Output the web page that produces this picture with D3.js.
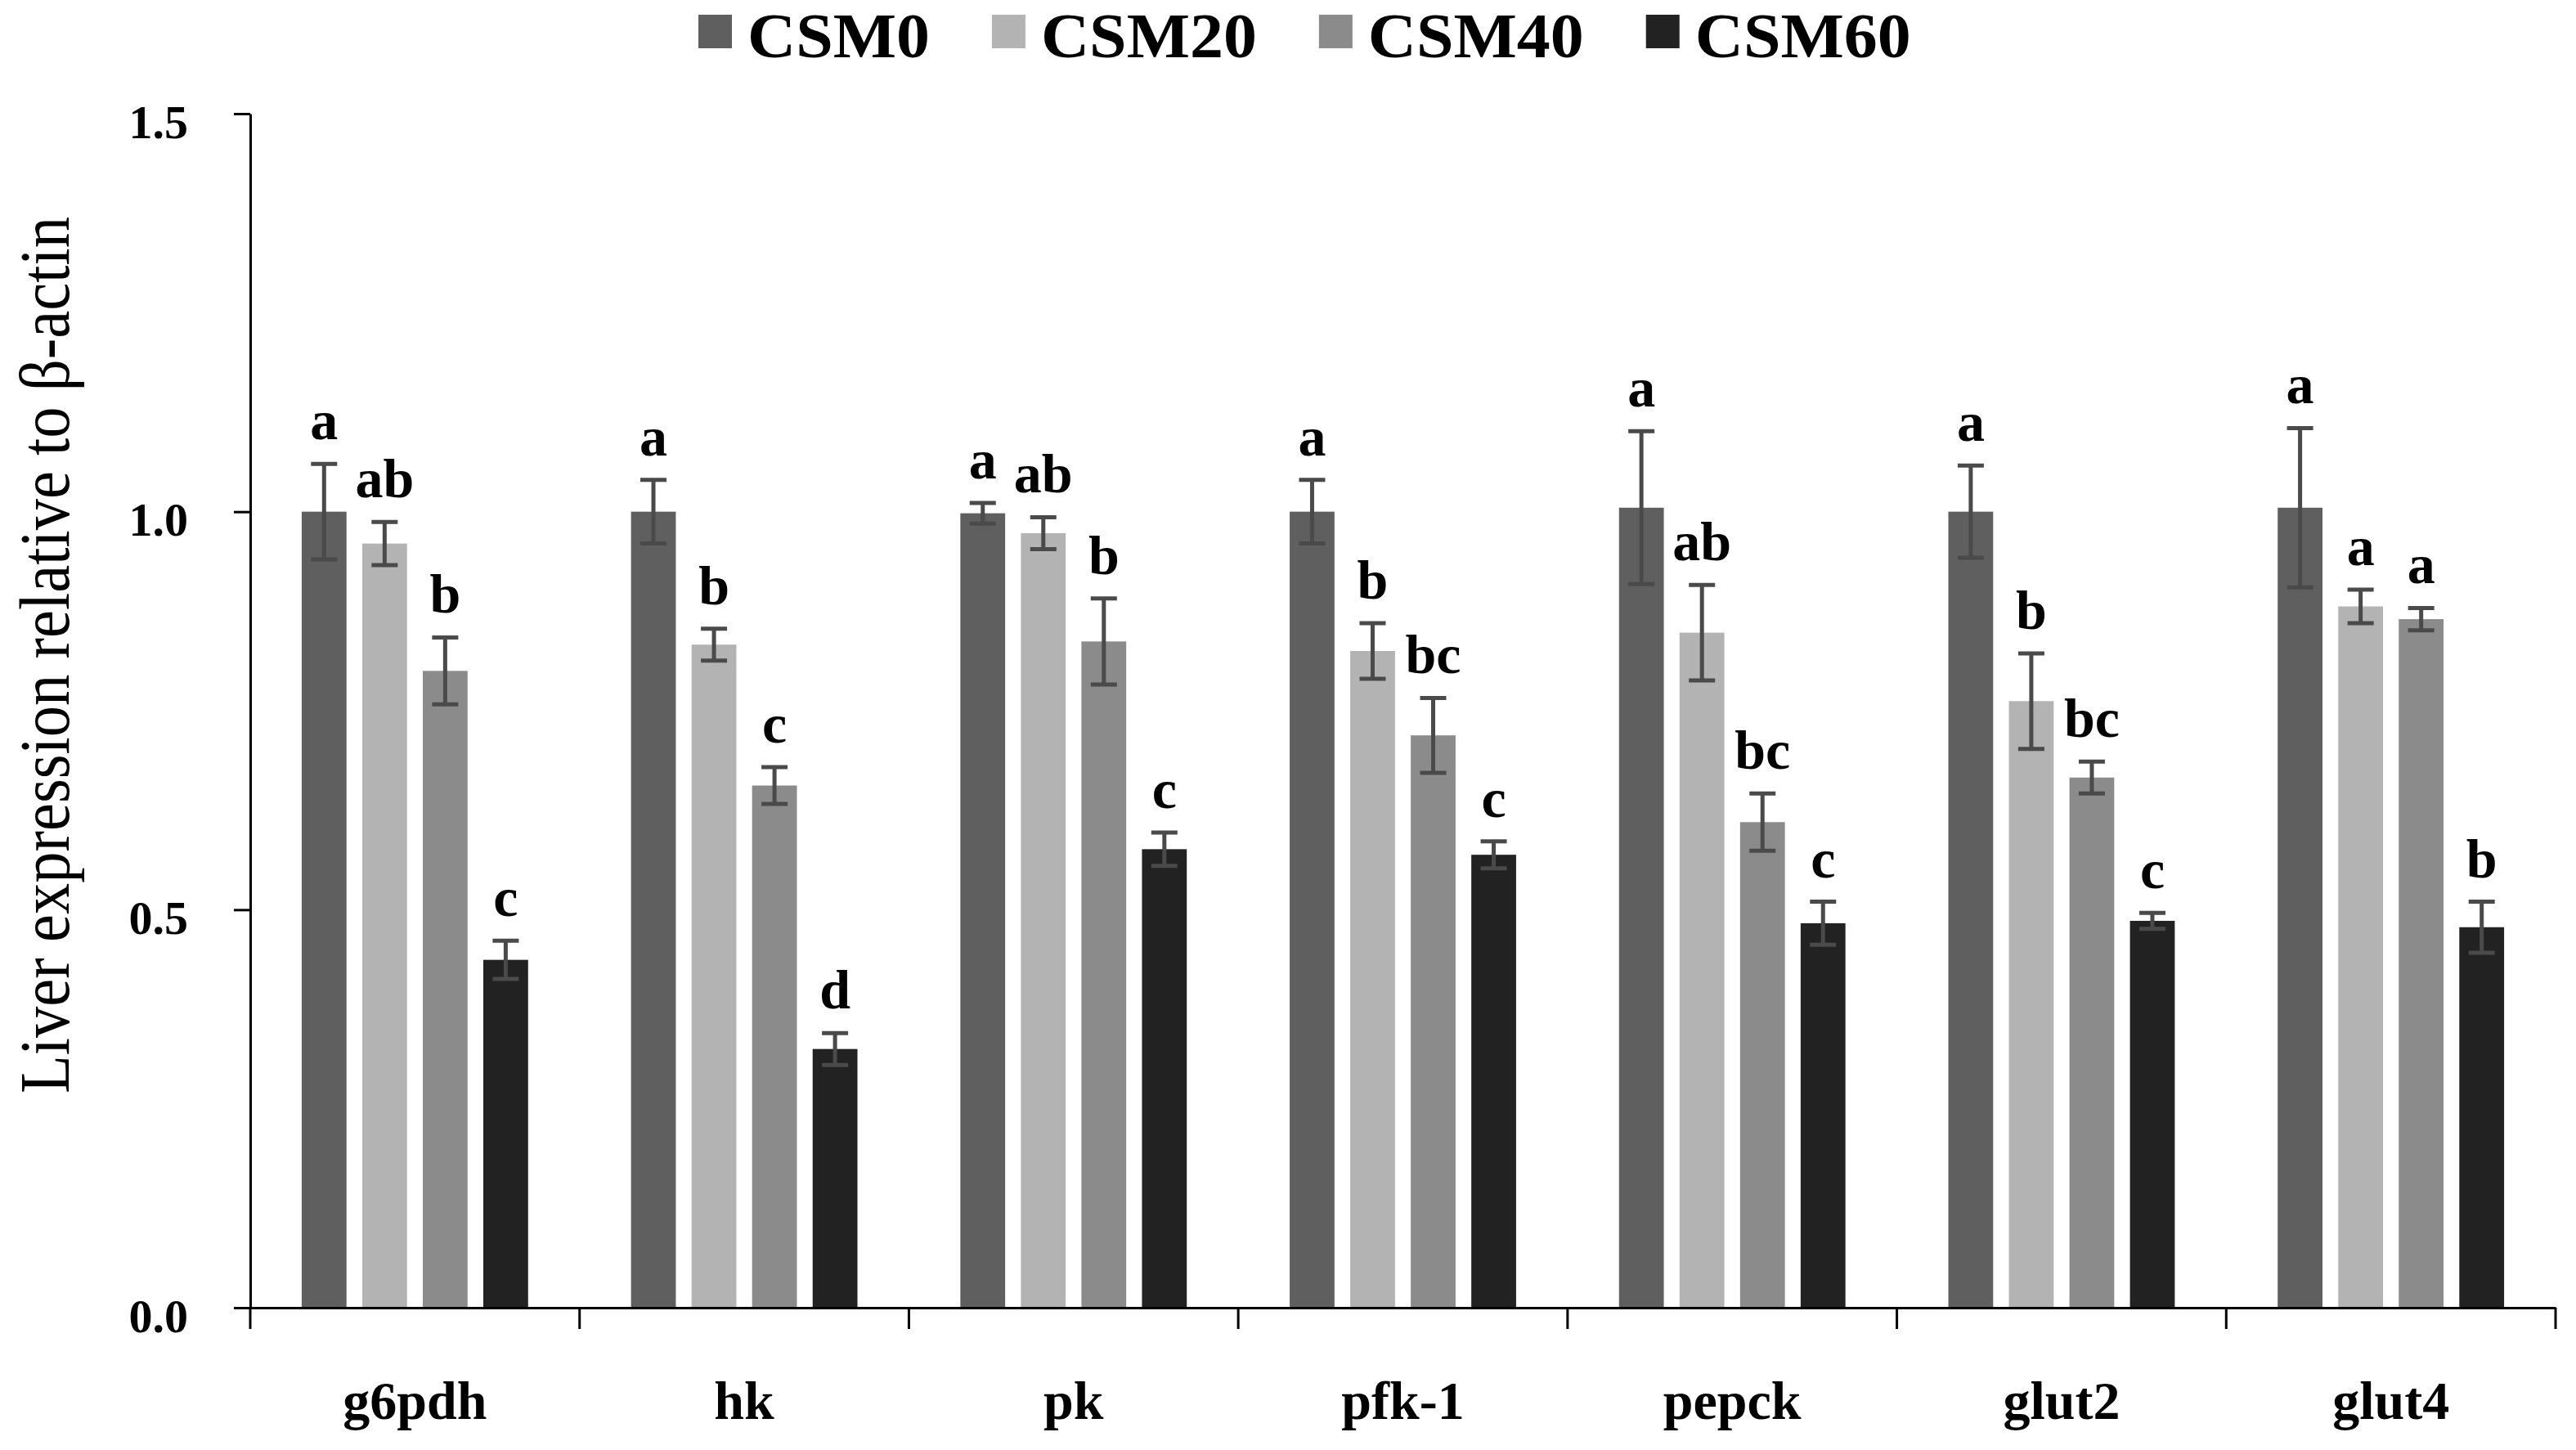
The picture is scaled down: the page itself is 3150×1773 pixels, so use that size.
<!DOCTYPE html>
<html>
<head>
<meta charset="utf-8">
<script src="https://cdn.jsdelivr.net/npm/d3@7/dist/d3.min.js"></script>
<style>
  html, body { margin: 0; padding: 0; background: #fff; }
  svg { display: block; }
  text { font-family: "Liberation Serif", "Times New Roman", serif; fill: #000; }
</style>
</head>
<body>
<svg id="chart" width="3150" height="1773"></svg>
<script>
// ---- data ----
const categories = ["g6pdh", "hk", "pk", "pfk-1", "pepck", "glut2", "glut4"];
const seriesNames = ["CSM0", "CSM20", "CSM40", "CSM60"];
const seriesColors = ["#5f5f5f", "#b3b3b3", "#8b8b8b", "#222222"];

const csm0     = [1.000, 1.000, 0.998, 1.000, 1.005, 1.000, 1.005];
const csm0Err  = [0.060, 0.040, 0.013, 0.040, 0.096, 0.058, 0.100];
const csm20    = [0.960, 0.833, 0.973, 0.825, 0.848, 0.762, 0.881];
const csm20Err = [0.027, 0.020, 0.020, 0.035, 0.060, 0.060, 0.021];
const csm40    = [0.800, 0.656, 0.837, 0.719, 0.610, 0.666, 0.865];
const csm40Err = [0.042, 0.023, 0.054, 0.047, 0.036, 0.020, 0.014];
const csm60    = [0.437, 0.325, 0.576, 0.569, 0.483, 0.486, 0.478];
const csm60Err = [0.024, 0.020, 0.021, 0.017, 0.027, 0.010, 0.032];

const csm0Sig  = ["a", "a", "a", "a", "a", "a", "a"];
const csm20Sig = ["ab", "b", "ab", "b", "ab", "b", "a"];
const csm40Sig = ["b", "c", "b", "bc", "bc", "bc", "a"];
const csm60Sig = ["c", "d", "c", "c", "c", "c", "b"];

const yTicks = [0, 0.5, 1.0, 1.5];
const yTitle = "Liver expression relative to \u03b2-actin";

// ---- build rows ----
const values = [csm0, csm20, csm40, csm60];
const errors = [csm0Err, csm20Err, csm40Err, csm60Err];
const sigs = [csm0Sig, csm20Sig, csm40Sig, csm60Sig];
const rows = [];
categories.forEach((c, i) => {
  seriesNames.forEach((s, j) => {
    rows.push({ cat: c, series: s, value: values[j][i], err: errors[j][i], sig: sigs[j][i] });
  });
});

// ---- layout ----
const svg = d3.select("#chart");
const plotL = 306, plotR = 3125, plotT = 139, plotB = 1599;

const x0 = d3.scaleBand().domain(categories).range([plotL, plotR]).paddingInner(0).paddingOuter(0);
const x1 = d3.scaleBand().domain(seriesNames).range([0, x0.bandwidth()]).paddingInner(0.26).paddingOuter(0.85);
const y = d3.scaleLinear().domain([0, 1.5]).range([plotB, plotT]);
const color = d3.scaleOrdinal().domain(seriesNames).range(seriesColors);

// bars
svg.append("g").selectAll("rect").data(rows).join("rect")
  .attr("x", d => x0(d.cat) + x1(d.series))
  .attr("y", d => y(d.value))
  .attr("width", x1.bandwidth())
  .attr("height", d => y(0) - y(d.value))
  .attr("fill", d => color(d.series));

// error bars
const capW = 32;
const eg = svg.append("g").attr("stroke", "#4a4a4a").attr("stroke-width", 5);
const cx = d => x0(d.cat) + x1(d.series) + x1.bandwidth() / 2;
eg.selectAll("line.stem").data(rows).join("line").attr("class", "stem")
  .attr("x1", cx).attr("x2", cx)
  .attr("y1", d => y(d.value + d.err)).attr("y2", d => y(d.value - d.err));
eg.selectAll("line.capT").data(rows).join("line").attr("class", "capT")
  .attr("x1", d => cx(d) - capW / 2).attr("x2", d => cx(d) + capW / 2)
  .attr("y1", d => y(d.value + d.err)).attr("y2", d => y(d.value + d.err));
eg.selectAll("line.capB").data(rows).join("line").attr("class", "capB")
  .attr("x1", d => cx(d) - capW / 2).attr("x2", d => cx(d) + capW / 2)
  .attr("y1", d => y(d.value - d.err)).attr("y2", d => y(d.value - d.err));

// significance letters
svg.append("g").selectAll("text").data(rows).join("text")
  .attr("x", cx)
  .attr("y", d => y(d.value + d.err) - 30)
  .attr("text-anchor", "middle")
  .attr("font-weight", "bold")
  .attr("font-size", 68)
  .text(d => d.sig);

// y axis
const yAxis = svg.append("g").attr("transform", `translate(${plotL},0)`)
  .call(d3.axisLeft(y).tickValues(yTicks).tickFormat(d3.format(".1f")).tickSize(20).tickSizeOuter(0).tickPadding(56));
yAxis.select(".domain").attr("stroke", "#000").attr("stroke-width", 3);
yAxis.selectAll(".tick line").attr("stroke", "#000").attr("stroke-width", 3);
yAxis.selectAll(".tick text")
  .attr("font-family", "'Liberation Serif', serif")
  .attr("font-size", 58).attr("font-weight", "bold").attr("fill", "#000")
  .attr("dy", "0.5em");

// x axis
const xAxis = svg.append("g").attr("transform", `translate(0,${plotB})`)
  .call(d3.axisBottom(x0).tickSize(0).tickSizeOuter(0).tickPadding(0));
xAxis.select(".domain").attr("stroke", "#000").attr("stroke-width", 3);
xAxis.selectAll(".tick text")
  .attr("font-family", "'Liberation Serif', serif")
  .attr("font-size", 66).attr("font-weight", "bold").attr("fill", "#000")
  .attr("y", 136).attr("dy", 0);
// boundary ticks
const bounds = categories.map(c => x0(c)).concat([x0.range()[1]]);
svg.append("g").selectAll("line").data(bounds).join("line")
  .attr("x1", d => d).attr("x2", d => d)
  .attr("y1", plotB).attr("y2", plotB + 26)
  .attr("stroke", "#000").attr("stroke-width", 3);

// y title
svg.append("text")
  .attr("transform", "translate(84,801) rotate(-90)")
  .attr("text-anchor", "middle")
  .attr("font-size", 86)
  .attr("textLength", 1072)
  .attr("lengthAdjust", "spacingAndGlyphs")
  .text(yTitle);

// legend
const lg = svg.append("g");
const legendStretch = 1.05;
let lx = 854;
seriesNames.forEach((s, i) => {
  lg.append("rect").attr("x", lx).attr("y", 18).attr("width", 41).attr("height", 41).attr("fill", color(s));
  const t = lg.append("text")
    .attr("transform", `translate(${lx + 60},70) scale(${legendStretch},1)`)
    .attr("font-size", 78).attr("font-weight", "bold").text(s);
  const w = t.node().getComputedTextLength() * legendStretch;
  lx = lx + 60 + w + 76;
});
</script>
</body>
</html>
